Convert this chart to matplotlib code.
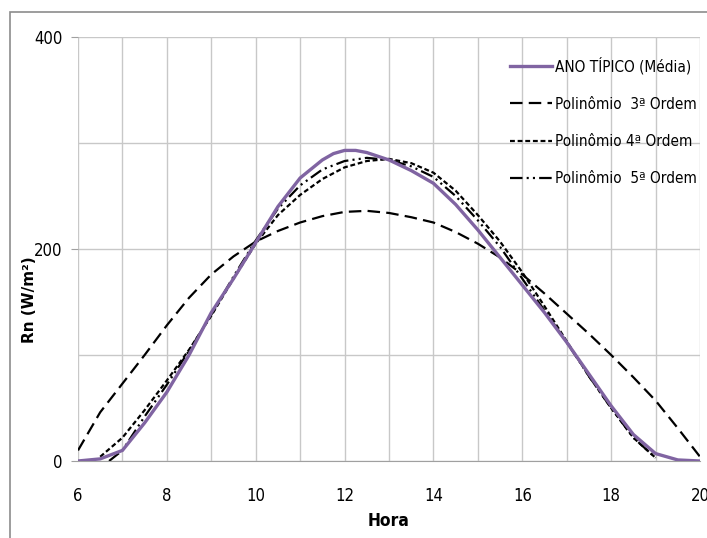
import matplotlib
matplotlib.use('Agg')
import matplotlib.pyplot as plt
from matplotlib.patches import Rectangle
from matplotlib.ticker import MultipleLocator

# Hours of the day (half-hour readings)
horas = [6, 6.5, 7, 7.5, 8, 8.5, 9, 9.5, 10, 10.5, 11, 11.5, 12, 12.5, 13,
         13.5, 14, 14.5, 15, 15.5, 16, 16.5, 17, 17.5, 18, 18.5, 19, 19.5, 20]

# Typical year (mean) net radiation, with extra readings around the peak
horas_m = horas[:12] + [11.75, 12, 12.25] + horas[13:]
media = [0, 2, 10, 36, 65, 100, 140, 172, 206, 240, 267, 284, 290, 293, 293,
         291, 284, 274, 262, 242, 218, 192, 166, 140, 112, 82, 52, 25, 7, 1, 0]

# 3rd order polynomial
poli3 = [10, 46, 73, 100, 128, 154, 176, 193, 207, 217, 225, 231, 235, 236, 234,
         230, 225, 216, 205, 192, 176, 158, 139, 120, 100, 79, 57, 31, 4]

# 4th order polynomial (starts at 6.5 h, ends at 19 h)
horas4 = horas[1:-2]
poli4 = [4, 22, 48, 76, 105, 137, 172, 205, 232, 251, 266, 277, 283, 285,
         281, 272, 255, 232, 207, 178, 146, 113, 80, 50, 22, 3]

# 5th order polynomial (starts at 6.7 h, ends at 19 h)
horas5 = [6.7] + horas[2:-2]
poli5 = [0, 10, 42, 72, 104, 138, 174, 208, 238, 260, 275, 283, 286, 284,
         278, 268, 250, 227, 202, 172, 142, 112, 80, 50, 22, 3]

rotulos = ['ANO TÍPICO (Média)', 'Polinômio  3ª Ordem',
           'Polinômio 4ª Ordem', 'Polinômio  5ª Ordem']

plt.rcParams['font.family'] = ['DejaVu Sans']
plt.rcParams['font.stretch'] = 'condensed'
plt.rcParams['lines.scale_dashes'] = False

fig = plt.figure(figsize=(7.07, 5.38), dpi=100)
ax = fig.add_axes([78 / 707, 1 - 461 / 538, 622 / 707, 424 / 538])

# outer frame of the chart
fig.patches.append(Rectangle((10 / 707, -0.2), 1.2, 1 - 12 / 538 + 0.2,
                             transform=fig.transFigure, fill=False,
                             edgecolor='#8c8c8c', linewidth=1.2))

ax.plot(horas_m, media, color='#8064A2', lw=2.4, label=rotulos[0], zorder=3)
ax.plot(horas, poli3, color='black', lw=1.6, ls=(0, (9, 4.5)), label=rotulos[1])
ax.plot(horas4, poli4, color='black', lw=1.6, ls=(0, (3.5, 2)), label=rotulos[2])
ax.plot(horas5, poli5, color='black', lw=1.6, ls=(0, (9, 3, 1.5, 3, 1.5, 3)),
        label=rotulos[3])

ax.set_xlim(6, 20)
ax.set_ylim(0, 400)
ax.xaxis.set_major_locator(MultipleLocator(2))
ax.xaxis.set_minor_locator(MultipleLocator(1))
ax.yaxis.set_major_locator(MultipleLocator(200))
ax.yaxis.set_minor_locator(MultipleLocator(100))
ax.grid(True, which='both', color='#c8c8c8', lw=1)
ax.set_axisbelow(True)

for s in ['top', 'right', 'left']:
    ax.spines[s].set_visible(False)
ax.spines['bottom'].set_color('#a0a0a0')
ax.tick_params(axis='y', which='major', length=5, color='#a0a0a0',
               labelsize=12, pad=6)
ax.tick_params(axis='y', which='minor', length=0)
ax.tick_params(axis='x', which='both', length=0, labelsize=12, pad=19)

ax.set_xlabel('Hora', fontsize=12.5, fontweight='bold', labelpad=5)
ax.set_ylabel('Rn (W/m²)', fontsize=11, fontweight='bold', fontstretch='normal')
ax.yaxis.set_label_coords(-0.066, 0.38)

ax.legend(loc='upper left', bbox_to_anchor=(0.672, 0.985), frameon=False,
          fontsize=11, handlelength=2.75, handletextpad=0.2, labelspacing=1.45)

fig.savefig('out.png', dpi=100)
